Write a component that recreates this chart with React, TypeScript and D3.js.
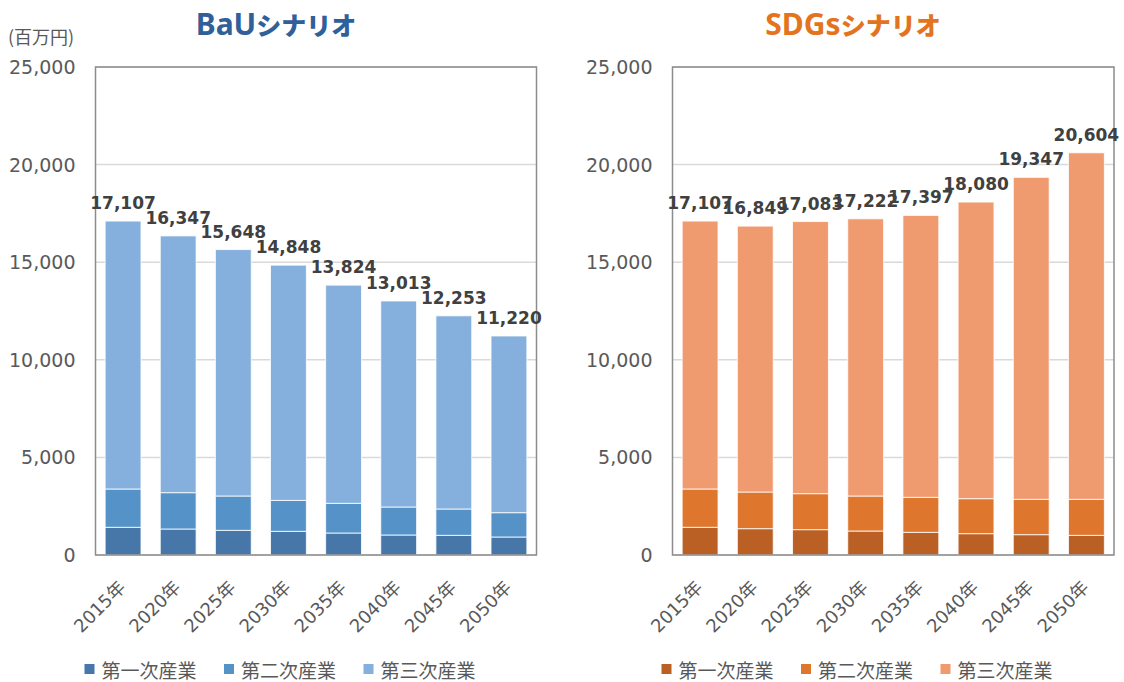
import * as d3 from "d3";
import React from "react";

const years = ["2015年", "2020年", "2025年", "2030年", "2035年", "2040年", "2045年", "2050年"];
const sectors = ["第一次産業", "第二次産業", "第三次産業"];
const yTicks = [0, 5000, 10000, 15000, 20000, 25000];

// BaUシナリオ (百万円)
const bauPrimary = [1419, 1332, 1264, 1212, 1127, 1025, 1007, 922];
const bauSecondary = [1962, 1861, 1758, 1588, 1520, 1434, 1350, 1246];
const bauTertiary = [13726, 13154, 12626, 12048, 11177, 10554, 9896, 9052];

// SDGsシナリオ (百万円)
const sdgPrimary = [1419, 1349, 1298, 1229, 1161, 1093, 1042, 1007];
const sdgSecondary = [1962, 1878, 1844, 1793, 1793, 1793, 1810, 1845];
const sdgTertiary = [13726, 13622, 13941, 14200, 14443, 15194, 16495, 17752];

const FONT = "'DejaVu Sans', 'Noto Sans CJK JP', sans-serif";
const JP = "'Noto Sans CJK JP', sans-serif";

interface PanelProps {
  left: number;
  right: number;
  titleX: number;
  titleLatin: string;
  titleKana: string;
  titleColor: string;
  colors: string[];
  series: number[][];
}

const Panel: React.FC<PanelProps> = ({
  left,
  right,
  titleX,
  titleLatin,
  titleKana,
  titleColor,
  colors,
  series,
}) => {
  const top = 67;
  const bottom = 555;

  const x = d3.scaleBand<string>().domain(years).range([left, right]).paddingInner(0.35).paddingOuter(0.175);
  const y = d3.scaleLinear().domain([0, 25000]).range([bottom, top]);

  const rows = years.map((yr, i) => ({ year: yr, a: series[0][i], b: series[1][i], c: series[2][i] }));
  const stack = d3.stack<any>().keys(["a", "b", "c"])(rows);
  const fmt = d3.format(",");

  return (
    <g>
      {/* title */}
      <text x={titleX} y={35} textAnchor="middle" fill={titleColor} fontWeight="bold">
        <tspan fontFamily="'Noto Sans', sans-serif" fontSize={30}>{titleLatin}</tspan>
        <tspan fontFamily={JP} fontSize={25} fontWeight={900}>{titleKana}</tspan>
      </text>

      {/* gridlines */}
      {yTicks.map((t) => (
        <line key={t} x1={left} x2={right} y1={y(t)} y2={y(t)} stroke="#d9d9d9" strokeWidth={1.5} />
      ))}

      {/* y tick labels */}
      {yTicks.map((t) => (
        <text
          key={"l" + t}
          x={left - 20}
          y={y(t)}
          textAnchor="end"
          dominantBaseline="central"
          fontFamily={FONT}
          fontSize={19}
          fill="#595959"
        >
          {fmt(t)}
        </text>
      ))}

      {/* bars */}
      {stack.map((layer, si) => (
        <g key={si} fill={colors[si]}>
          {layer.map((d, i) => (
            <rect
              key={i}
              x={x(years[i])}
              width={x.bandwidth()}
              y={y(d[1])}
              height={y(d[0]) - y(d[1])}
              stroke="#ffffff"
              strokeOpacity={0.8}
              strokeWidth={1}
            />
          ))}
        </g>
      ))}

      {/* frame */}
      <rect x={left} y={top} width={right - left} height={bottom - top} fill="none" stroke="#8c8c8c" strokeWidth={1.5} />

      {/* total labels */}
      {rows.map((r, i) => {
        const total = r.a + r.b + r.c;
        return (
          <text
            key={"t" + i}
            x={(x(r.year) as number) + x.bandwidth() / 2}
            y={y(total) - 12}
            textAnchor="middle"
            fontFamily={FONT}
            fontWeight="bold"
            fontSize={17}
            fill="#404040"
          >
            {fmt(total)}
          </text>
        );
      })}

      {/* x labels */}
      {years.map((yr) => {
        const cx = (x(yr) as number) + x.bandwidth() / 2;
        return (
          <text
            key={yr}
            transform={`translate(${cx - 1},584) rotate(-45)`}
            textAnchor="end"
            dominantBaseline="central"
            fontFamily={FONT}
            fontSize={18}
            fill="#595959"
          >
            {yr}
          </text>
        );
      })}

      {/* legend */}
      {sectors.map((s, i) => {
        const lx = left - 11 + i * 139.5;
        return (
          <g key={s}>
            <rect x={lx} y={664} width={10} height={10} fill={colors[i]} />
            <text x={lx + 17} y={669} dominantBaseline="central" fontFamily={JP} fontSize={19} fill="#595959">
              {s}
            </text>
          </g>
        );
      })}
    </g>
  );
};

export default function App() {
  return (
    <svg
      width={1124}
      height={682}
      style={{ position: "absolute", left: 0, top: 0, background: "#fff" }}
    >
      <text x={8} y={44} fontFamily={JP} fontSize={18} fill="#595959">
        (百万円)
      </text>
      <Panel
        left={95.5}
        right={536.5}
        titleX={276}
        titleLatin="BaU"
        titleKana="シナリオ"
        titleColor="#30609a"
        colors={["#4677a8", "#5592c8", "#85afdc"]}
        series={[bauPrimary, bauSecondary, bauTertiary]}
      />
      <Panel
        left={672.5}
        right={1114}
        titleX={853}
        titleLatin="SDGs"
        titleKana="シナリオ"
        titleColor="#e4731e"
        colors={["#ba6024", "#df762e", "#f09a6f"]}
        series={[sdgPrimary, sdgSecondary, sdgTertiary]}
      />
    </svg>
  );
}
